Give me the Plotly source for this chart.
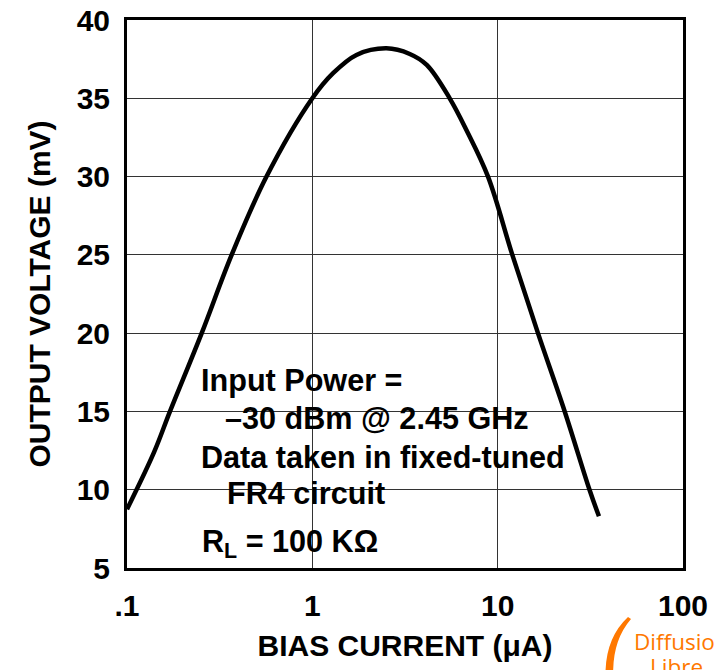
import plotly.graph_objects as go

# ---- data ----
bias_current_ua = [0.1, 0.140, 0.1706, 0.253, 0.367, 0.566, 1.0, 1.294, 1.73,
                   2.51, 3.355, 4.143, 5.51, 6.78, 8.87, 12.0, 16.5,
                   23.0, 31.3, 35.2]
output_voltage_mv = [8.75, 12.4, 15.0, 20.0, 25.0, 30.0, 35.0, 36.6, 37.77,
                     38.19, 37.83, 37.13, 35.0, 32.98, 30.0, 25.0, 20.0,
                     15.0, 10.0, 8.3]

x_tickvals = [0.1, 1, 10, 100]
x_ticktext = [".1", "1", "10", "100"]
y_tickvals = [5, 10, 15, 20, 25, 30, 35, 40]

note_lines = [
    "Input Power =",
    "\u201330 dBm @ 2.45 GHz",
    "Data taken in fixed-tuned",
    "FR4 circuit",
    "R<sub>L</sub> = 100 K\u03a9",
]

# ---- layout geometry (pixels) ----
W, H = 715, 670
L, R, T, B = 127, 32, 20, 102
PW, PH = W - L - R, H - T - B


def px(xp):
    return (xp - L) / PW


def py(yp):
    return (H - B - yp) / PH


FONT = "Liberation Sans, Arial, Helvetica, sans-serif"
ORANGE = "rgb(255,120,0)"

fig = go.Figure()
fig.add_trace(go.Scatter(
    x=bias_current_ua, y=output_voltage_mv, mode="lines",
    line=dict(color="black", width=4.5, shape="spline", smoothing=1.0),
    hoverinfo="skip", showlegend=False,
))

annotations = []
note_pos = [(199, 381), (223, 418), (199, 457), (225, 493), (200, 543)]
for txt, (xp, yp) in zip(note_lines, note_pos):
    annotations.append(dict(
        text="<b>" + txt + "</b>", xref="paper", yref="paper",
        x=px(xp), y=py(yp), xanchor="left", yanchor="middle", showarrow=False,
        font=dict(family=FONT, size=30.6, color="black"),
    ))

# logo text
annotations.append(dict(text="Diffusio", xref="paper", yref="paper",
                        x=px(632), y=py(641), xanchor="left", yanchor="middle",
                        showarrow=False,
                        font=dict(family="Open Sans, sans-serif", size=22.5, color=ORANGE)))
annotations.append(dict(text="Libre", xref="paper", yref="paper",
                        x=px(676), y=py(666), xanchor="center", yanchor="middle",
                        showarrow=False,
                        font=dict(family="Open Sans, sans-serif", size=22.5, color=ORANGE)))

shapes = [
    # white box behind the note that interrupts the grid
    dict(type="rect", xref="paper", yref="paper", layer="between",
         x0=px(195), x1=px(543), y0=py(562), y1=py(363),
         fillcolor="white", line=dict(width=0)),
    # orange crescent of the logo
    dict(type="path", xref="paper", yref="paper", layer="above",
         path=(f"M {px(628)},{py(617)} Q {px(598)},{py(645)} {px(608)},{py(700)} "
               f"L {px(616)},{py(700)} Q {px(606)},{py(648)} {px(631)},{py(619)} Z"),
         fillcolor=ORANGE, line=dict(width=0)),
]

fig.update_layout(
    width=W, height=H,
    margin=dict(l=L, r=R, t=T, b=B, autoexpand=False),
    paper_bgcolor="white", plot_bgcolor="white",
    showlegend=False,
    annotations=annotations,
    shapes=shapes,
    xaxis=dict(
        type="log", range=[-1, 2], automargin=False,
        tickvals=x_tickvals, ticktext=x_ticktext,
        showgrid=True, gridcolor="#333333", gridwidth=1,
        showline=True, linecolor="black", linewidth=3, mirror=True,
        ticks="", ticklabelstandoff=9,
        tickfont=dict(family=FONT, size=30, color="black", weight="bold"),
        title=dict(text="BIAS CURRENT (\u03bcA)", standoff=14,
                   font=dict(family=FONT, size=30, color="black", weight="bold")),
        zeroline=False,
    ),
    yaxis=dict(
        range=[5, 40], tickvals=y_tickvals, automargin=False,
        showgrid=True, gridcolor="#333333", gridwidth=1,
        showline=True, linecolor="black", linewidth=3, mirror=True,
        ticks="", ticklabelstandoff=8,
        tickfont=dict(family=FONT, size=30, color="black", weight="bold"),
        title=dict(text="OUTPUT VOLTAGE (mV)", standoff=18,
                   font=dict(family=FONT, size=30, color="black", weight="bold")),
        zeroline=False,
    ),
)

fig.write_html("out.html")
